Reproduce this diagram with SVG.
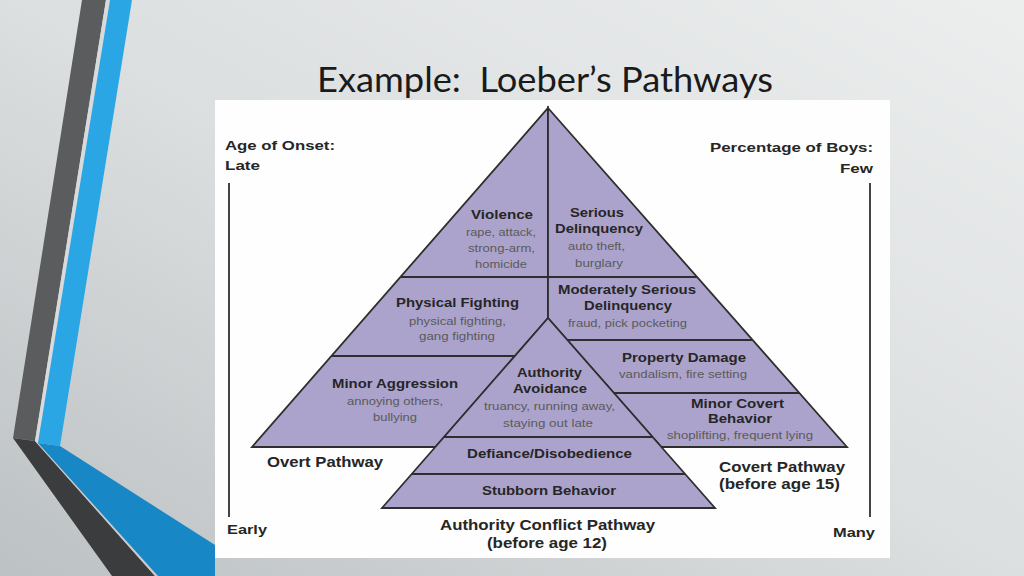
<svg xmlns="http://www.w3.org/2000/svg" width="1024" height="576" viewBox="0 0 1024 576">
<defs>
<linearGradient id="bg" x1="1" y1="0" x2="0" y2="1">
<stop offset="0" stop-color="#eceeee"/>
<stop offset="0.5" stop-color="#dcdfe0"/>
<stop offset="1" stop-color="#bcc1c3"/>
</linearGradient>
<style>
.reg{fill:#aba3cb;stroke:#2e2e2e;stroke-width:1.8;stroke-linejoin:miter}
.ln{stroke:#2e2e2e;stroke-width:1.8;fill:none}
.ax{stroke:#444;stroke-width:2;fill:none}
.b{font-family:"Liberation Sans",Arial,sans-serif;font-weight:bold;font-size:13px;fill:#262626}
.s{font-family:"Liberation Sans",Arial,sans-serif;font-size:11px;fill:#5a5a5a}
.m{text-anchor:middle}
.e{text-anchor:end}
.lg{font-size:14px}
</style>
</defs>
<rect width="1024" height="576" fill="url(#bg)"/>
<g id="decor">
<polygon points="82,0 106,0 35,441 13,438" fill="#5b5c5e"/>
<polygon points="13,438 35,441 155,576 112,576" fill="#3b3c3e"/>
<polygon points="106,0 110,0 38,443 35,441" fill="#d8dadb"/>
<polygon points="35,441 38,443 158,576 155,576" fill="#c8cacb"/>
<polygon points="110,0 132,0 60,446 38,443" fill="#2aa6e4"/>
<polygon points="38,443 60,446 215,545 215,576 158,576" fill="#1787c6"/>
</g>
<g id="title">
<text x="317" y="92" font-family="Lato,'Open Sans',sans-serif" font-size="35" fill="#1a1a1a" textLength="456" lengthAdjust="spacingAndGlyphs" xml:space="preserve">Example:  Loeber’s Pathways</text>
</g>
<rect id="panel" x="215" y="100" width="675" height="458" fill="#fefefe"/>
<g id="axes">
<line class="ax" x1="229" y1="183" x2="229" y2="517"/>
<line class="ax" x1="870" y1="183" x2="870" y2="517"/>
<text class="b" x="225" y="150" textLength="110" lengthAdjust="spacingAndGlyphs">Age of Onset:</text>
<text class="b" x="225" y="170" textLength="35" lengthAdjust="spacingAndGlyphs">Late</text>
<text class="b" x="710" y="152" textLength="163" lengthAdjust="spacingAndGlyphs">Percentage of Boys:</text>
<text class="b e" x="873" y="173" textLength="33" lengthAdjust="spacingAndGlyphs">Few</text>
<text class="b" x="227" y="534" textLength="40" lengthAdjust="spacingAndGlyphs">Early</text>
<text class="b" x="833" y="537" textLength="42" lengthAdjust="spacingAndGlyphs">Many</text>
</g>
<g id="overt">
<polygon class="reg" points="548,108 548,318 435.3,447 252,447"/>
<text class="b lg" x="267" y="467" textLength="116" lengthAdjust="spacingAndGlyphs">Overt Pathway</text>
</g>
<g id="covert">
<polygon class="reg" points="548,108 847,447 661.4,447 548,318"/>
<text class="b lg" x="719" y="472" textLength="126" lengthAdjust="spacingAndGlyphs">Covert Pathway</text>
<text class="b lg" x="719" y="489" textLength="121" lengthAdjust="spacingAndGlyphs">(before age 15)</text>
</g>
<g id="authority">
<polygon class="reg" points="548,318 715,508 382,508"/>
<text class="b lg" x="440" y="530" textLength="215" lengthAdjust="spacingAndGlyphs">Authority Conflict Pathway</text>
<text class="b lg" x="487" y="548" textLength="120" lengthAdjust="spacingAndGlyphs">(before age 12)</text>
</g>
<g id="connectors">
<line class="ln" x1="400.4" y1="277" x2="697" y2="277"/>
<line class="ln" x1="331.4" y1="356" x2="514.8" y2="356"/>
<line class="ln" x1="567.2" y1="340" x2="752.6" y2="340"/>
<line class="ln" x1="613.5" y1="393" x2="799.4" y2="393"/>
<line class="ln" x1="444" y1="437" x2="652.6" y2="437"/>
<line class="ln" x1="411.7" y1="474" x2="685" y2="474"/>
</g>
<g id="violence">
<text class="b m" x="502" y="219" textLength="62" lengthAdjust="spacingAndGlyphs">Violence</text>
<text class="s m" x="501" y="236" textLength="70" lengthAdjust="spacingAndGlyphs">rape, attack,</text>
<text class="s m" x="501.5" y="252" textLength="67" lengthAdjust="spacingAndGlyphs">strong-arm,</text>
<text class="s m" x="501" y="268" textLength="52" lengthAdjust="spacingAndGlyphs">homicide</text>
</g>
<g id="serious-delinquency">
<text class="b m" x="597" y="217" textLength="54" lengthAdjust="spacingAndGlyphs">Serious</text>
<text class="b m" x="599" y="233" textLength="88" lengthAdjust="spacingAndGlyphs">Delinquency</text>
<text class="s m" x="596.5" y="250" textLength="57" lengthAdjust="spacingAndGlyphs">auto theft,</text>
<text class="s m" x="599" y="267" textLength="48" lengthAdjust="spacingAndGlyphs">burglary</text>
</g>
<g id="physical-fighting">
<text class="b m" x="457.5" y="307" textLength="123" lengthAdjust="spacingAndGlyphs">Physical Fighting</text>
<text class="s m" x="457.5" y="325" textLength="97" lengthAdjust="spacingAndGlyphs">physical fighting,</text>
<text class="s m" x="457" y="340" textLength="76" lengthAdjust="spacingAndGlyphs">gang fighting</text>
</g>
<g id="moderately-serious">
<text class="b m" x="627" y="294" textLength="138" lengthAdjust="spacingAndGlyphs">Moderately Serious</text>
<text class="b m" x="628" y="310" textLength="88" lengthAdjust="spacingAndGlyphs">Delinquency</text>
<text class="s m" x="627.5" y="327" textLength="119" lengthAdjust="spacingAndGlyphs">fraud, pick pocketing</text>
</g>
<g id="minor-aggression">
<text class="b m" x="395" y="388" textLength="126" lengthAdjust="spacingAndGlyphs">Minor Aggression</text>
<text class="s m" x="395" y="405" textLength="96" lengthAdjust="spacingAndGlyphs">annoying others,</text>
<text class="s m" x="395" y="421" textLength="44" lengthAdjust="spacingAndGlyphs">bullying</text>
</g>
<g id="authority-avoidance">
<text class="b m" x="549.5" y="377" textLength="65" lengthAdjust="spacingAndGlyphs">Authority</text>
<text class="b m" x="550" y="393" textLength="74" lengthAdjust="spacingAndGlyphs">Avoidance</text>
<text class="s m" x="549.5" y="410" textLength="131" lengthAdjust="spacingAndGlyphs">truancy, running away,</text>
<text class="s m" x="548" y="427" textLength="90" lengthAdjust="spacingAndGlyphs">staying out late</text>
</g>
<g id="property-damage">
<text class="b m" x="684" y="362" textLength="124" lengthAdjust="spacingAndGlyphs">Property Damage</text>
<text class="s m" x="683" y="378" textLength="128" lengthAdjust="spacingAndGlyphs">vandalism, fire setting</text>
</g>
<g id="minor-covert">
<text class="b m" x="737.5" y="408" textLength="93" lengthAdjust="spacingAndGlyphs">Minor Covert</text>
<text class="b m" x="740" y="423" textLength="64" lengthAdjust="spacingAndGlyphs">Behavior</text>
<text class="s m" x="740" y="439" textLength="146" lengthAdjust="spacingAndGlyphs">shoplifting, frequent lying</text>
</g>
<g id="defiance">
<text class="b m" x="549.5" y="458" font-size="12" textLength="165" lengthAdjust="spacingAndGlyphs">Defiance/Disobedience</text>
</g>
<g id="stubborn">
<text class="b m" x="549" y="495" font-size="12" textLength="134" lengthAdjust="spacingAndGlyphs">Stubborn Behavior</text>
</g>
</svg>
